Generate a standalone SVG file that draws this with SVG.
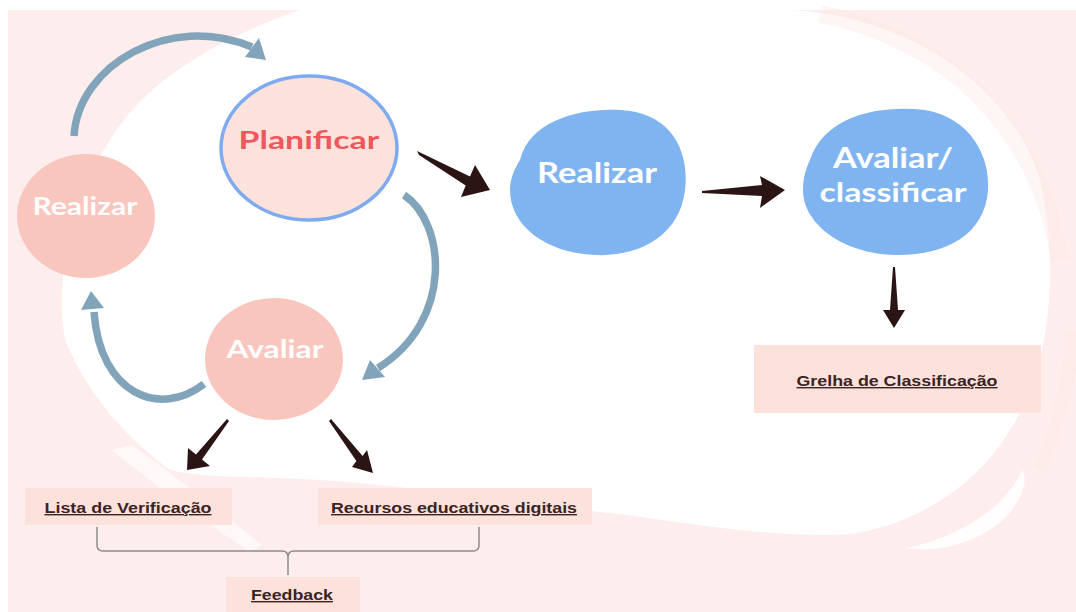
<svg xmlns="http://www.w3.org/2000/svg" width="1076" height="612" viewBox="0 0 1076 612">
  <style>
    .blobtxt { font-family: Lato, "Noto Sans", "DejaVu Sans", sans-serif; font-weight: bold; fill: #ffffff; text-anchor: middle; }
    .lbl { font-family: "Liberation Sans", Arial, sans-serif; font-weight: bold; font-size: 14px; fill: #3a2424; text-anchor: middle; text-decoration: underline; }
    .box { fill: #fde2dc; }
    .pink { fill: #f9c6be; }
    .blue { fill: #7fb4f1; }
    .cyc { fill: none; stroke: #82a4bb; stroke-width: 7.5; stroke-linecap: butt; }
    .cychead { fill: #82a4bb; }
    .blk { fill: #2a1414; }
  </style>

  <g id="background">
    <rect x="0" y="0" width="1076" height="612" fill="#ffffff"/>
    <rect x="8" y="10" width="1068" height="602" fill="#fdeeed"/>
    <path d="M300,10 L790,10 C900,15 1010,80 1040,180 C1060,270 1050,370 1010,430 C975,490 900,535 830,535 C740,535 660,518 600,512 C500,500 400,485 320,480 C250,476 200,478 170,470 C130,440 90,400 65,340 C55,280 70,200 110,140 C140,90 200,45 300,10 Z" fill="#ffffff"/>
    <path d="M905,548 C960,538 1008,505 1022,470 C1030,480 1020,510 990,530 C960,548 930,552 905,548 Z" fill="#ffffff" opacity="0.85"/>
    <path d="M112,450 C160,490 210,525 250,552 L262,545 C225,515 180,480 132,445 Z" fill="#ffffff" opacity="0.6"/>
    <path d="M820,14 C950,40 1040,130 1060,260" fill="none" stroke="#fbe4e2" stroke-width="18" opacity="0.35"/>
    <path d="M1040,470 C1060,420 1070,380 1072,330" fill="none" stroke="#fbe4e2" stroke-width="14" opacity="0.35"/>
  </g>

  <g id="connectors">
    <path class="cyc" d="M74,136 C78,65 170,12 252,47"/>
    <polygon class="cychead" points="259,38 245,57 266,60"/>
    <path class="cyc" d="M404,195 C445,222 455,320 378,368"/>
    <polygon class="cychead" points="385,377 370,360 362,380"/>
    <path class="cyc" d="M204,384 C160,418 100,395 94,312"/>
    <polygon class="cychead" points="81,310 104,308 91,291"/>
    <polygon class="blk" points="417,151 470,176.6 475,165 490,190 461,197 465.7,185.4 419,155"/>
    <polygon class="blk" points="702,191 762,185 760,176 785,190 760,208 762,196 702,193"/>
    <polygon class="blk" points="893,267 895,267 898,310 905,310 894,328 883,310 890,310"/>
    <polygon class="blk" points="227,419 196,454.5 188,448 187,470 210,466 202,459.5 229,421"/>
    <polygon class="blk" points="329,421 356.4,461 352,467 373,473 367,450 362.6,456 331,419"/>
    <path d="M97,527 L97,545 Q97,551 103,551 L282,551 Q288,551 288,557 L288,575 M288,557 Q288,551 294,551 L473,551 Q479,551 479,545 L479,527" fill="none" stroke="#8c8c8c" stroke-width="1.5"/>
  </g>

  <g id="node-planificar">
    <ellipse cx="309" cy="148" rx="88" ry="72" fill="#fde2db" stroke="#7eaaf0" stroke-width="3.5"/>
    <text class="blobtxt" x="309" y="149" font-size="25" textLength="141" lengthAdjust="spacingAndGlyphs" style="fill:#ee585c">Planificar</text>
  </g>

  <g id="node-realizar-ciclo">
    <ellipse class="pink" cx="86" cy="216" rx="69" ry="62"/>
    <text class="blobtxt" x="85" y="215" font-size="24" textLength="105" lengthAdjust="spacingAndGlyphs">Realizar</text>
  </g>

  <g id="node-avaliar-ciclo">
    <ellipse class="pink" cx="274" cy="359" rx="69" ry="61"/>
    <text class="blobtxt" x="275" y="358" font-size="25" textLength="97" lengthAdjust="spacingAndGlyphs">Avaliar</text>
  </g>

  <g id="node-realizar">
    <path class="blue" d="M520,160 C530,120 580,108 620,110 C670,112 690,150 685,190 C680,235 640,257 595,255 C545,253 510,225 510,190 C510,178 515,168 520,160 Z"/>
    <text class="blobtxt" x="597" y="183" font-size="28" textLength="120" lengthAdjust="spacingAndGlyphs">Realizar</text>
  </g>

  <g id="node-avaliar-classificar">
    <path class="blue" d="M810,160 C825,115 880,105 925,110 C970,118 990,155 988,190 C985,235 945,256 895,255 C845,254 803,225 803,190 C803,178 806,168 810,160 Z"/>
    <text class="blobtxt" x="893" y="168" font-size="28" textLength="120" lengthAdjust="spacingAndGlyphs">Avaliar/</text>
    <text class="blobtxt" x="893" y="202" font-size="27" textLength="147" lengthAdjust="spacingAndGlyphs">classificar</text>
  </g>

  <g id="node-grelha">
    <rect class="box" x="754" y="345" width="287" height="68"/>
    <text class="lbl" x="897" y="386" font-size="14" textLength="201" lengthAdjust="spacingAndGlyphs">Grelha de Classificação</text>
  </g>

  <g id="node-lista">
    <rect class="box" x="25" y="488" width="207" height="37"/>
    <text class="lbl" x="128" y="513" textLength="167" lengthAdjust="spacingAndGlyphs">Lista de Verificação</text>
  </g>

  <g id="node-recursos">
    <rect class="box" x="318" y="488" width="274" height="37"/>
    <text class="lbl" x="454" y="513" textLength="246" lengthAdjust="spacingAndGlyphs">Recursos educativos digitais</text>
  </g>

  <g id="node-feedback">
    <rect class="box" x="226" y="577" width="134" height="35"/>
    <text class="lbl" x="292" y="600" textLength="82" lengthAdjust="spacingAndGlyphs">Feedback</text>
  </g>
</svg>
